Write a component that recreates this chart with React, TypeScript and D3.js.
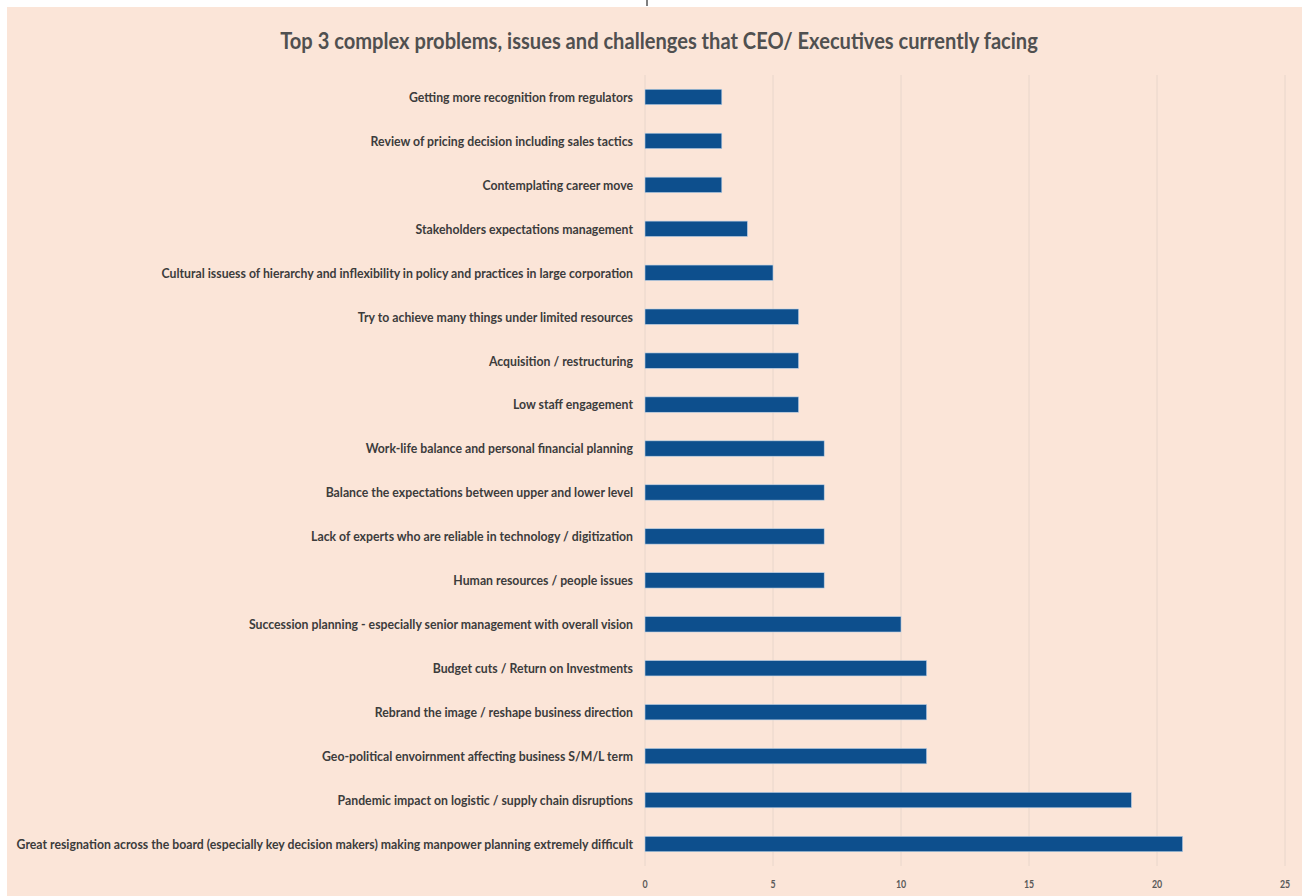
import React, { useLayoutEffect, useRef, useState } from "react";
import * as d3 from "d3";

const categories = [
  "Getting more recognition from regulators",
  "Review of pricing decision including sales tactics",
  "Contemplating career move",
  "Stakeholders expectations management",
  "Cultural issuess of hierarchy and inflexibility in policy and practices in large corporation",
  "Try to achieve many things under limited resources",
  "Acquisition / restructuring",
  "Low staff engagement",
  "Work-life balance and personal financial planning",
  "Balance the expectations between upper and lower level",
  "Lack of experts who are reliable in technology / digitization",
  "Human resources / people issues",
  "Succession planning - especially senior management with overall vision",
  "Budget cuts / Return on Investments",
  "Rebrand the image / reshape business direction",
  "Geo-political envoirnment affecting business S/M/L term",
  "Pandemic impact on logistic / supply chain disruptions",
  "Great resignation across the board (especially key decision makers) making manpower planning extremely difficult",
];
const values = [3, 3, 3, 4, 5, 6, 6, 6, 7, 7, 7, 7, 10, 11, 11, 11, 19, 21];
const ticks = [0, 5, 10, 15, 20, 25];
const title = "Top 3 complex problems, issues and challenges that CEO/ Executives currently facing";

const W = 1304;
const H = 896;
const FONT = "Lato, 'Noto Sans', sans-serif";

export default function App() {
  const x = d3.scaleLinear().domain([0, 25]).range([645, 1285]);
  const y = d3.scaleBand<string>().domain(categories).range([75, 866]).paddingInner(0.65).paddingOuter(0.325);
  const longRef = useRef<SVGTextElement>(null);
  const titleRef = useRef<SVGTextElement>(null);
  const [sx, setSx] = useState({ label: 1, title: 1 });
  useLayoutEffect(() => {
    const lw = longRef.current ? longRef.current.getComputedTextLength() : 617;
    const tw = titleRef.current ? titleRef.current.getComputedTextLength() : 758;
    setSx({ label: 617 / lw, title: 758 / tw });
  }, []);
  const longest = categories[categories.length - 1];
  return (
    <svg width={W} height={H} style={{ position: "absolute", left: 0, top: 0 }}>
      <rect x={0} y={0} width={W} height={H} fill="#ffffff" />
      <rect x={7} y={7} width={W - 9} height={H - 7} fill="#fbe5d8" />
      <line x1={647} x2={647} y1={0} y2={6} stroke="#000" strokeWidth={1} />
      <text
        ref={titleRef}
        transform={`translate(659,49) scale(${sx.title},1)`}
        textAnchor="middle"
        fontFamily={FONT}
        fontWeight="bold"
        fontSize={23}
        fill="#505050"
      >
        {title}
      </text>
      {ticks.map((t) => (
        <line key={"g" + t} x1={x(t)} x2={x(t)} y1={75} y2={866} stroke="#e8d6cb" strokeWidth={1} />
      ))}
      {categories.map((c, i) => (
        <g key={c}>
          <rect x={x(0)} y={y(c)!} width={x(values[i]) - x(0)} height={y.bandwidth()} fill="#0d4f8d" stroke="#b9d0e6" strokeWidth={0.6} />
          <text
            ref={c === longest ? longRef : undefined}
            transform={`translate(633,${y(c)! + y.bandwidth() / 2}) scale(${sx.label},1)`}
            dy="0.36em"
            textAnchor="end"
            fontFamily={FONT}
            fontWeight="bold"
            fontSize={13.5}
            fill="#3c3c3c"
          >
            {c}
          </text>
        </g>
      ))}
      {ticks.map((t) => (
        <text key={"t" + t} transform={`translate(${x(t)},888) scale(0.8,1)`} textAnchor="middle" fontFamily={FONT} fontWeight="bold" fontSize={11} fill="#595959">
          {t}
        </text>
      ))}
    </svg>
  );
}
